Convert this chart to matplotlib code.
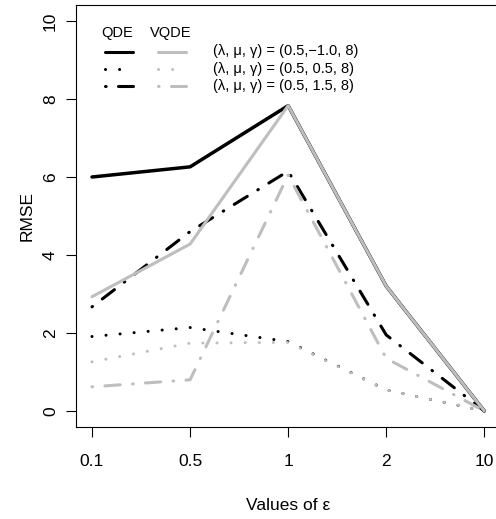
import matplotlib
matplotlib.use("Agg")
import matplotlib.pyplot as plt
from matplotlib.lines import Line2D

plt.rcParams['font.family'] = ['Liberation Sans', 'DejaVu Sans']

eps_labels = ["0.1", "0.5", "1", "2", "10"]
x = [1, 2, 3, 4, 5]

qde_a = [6.0, 6.26, 7.83, 3.2, 0.0]
qde_b = [1.91, 2.14, 1.78, 0.54, 0.0]
qde_c = [2.67, 4.6, 6.15, 1.95, 0.0]
vqde_a = [2.93, 4.28, 7.83, 3.2, 0.0]
vqde_b = [1.26, 1.74, 1.76, 0.54, 0.0]
vqde_c = [0.62, 0.8, 6.05, 1.35, 0.0]

legend_labels = ["(λ, μ, γ) = (0.5,\u22121.0, 8)",
                 "(λ, μ, γ) = (0.5, 0.5, 8)",
                 "(λ, μ, γ) = (0.5, 1.5, 8)"]

W, H = 496, 519
fig = plt.figure(figsize=(W/100, H/100), dpi=100)
L, R, B, T = 76.3, 500.0, 426.6, 5.4
ax = fig.add_axes([L/W, 1-B/H, (R-L)/W, (B-T)/H])

GRAY = "#BEBEBE"
LW = 2.2
FS = 12.5
solid = '-'
dotted = (0, (0.01, 4.6))
dashdot = (0, (0.2, 4.05, 5.0, 4.05))

styles = [solid, dotted, dashdot]
for vals, ls in zip([qde_a, qde_b, qde_c], styles):
    ax.plot(x, vals, color='black', lw=LW + (0.3 if ls == solid else 0), linestyle=ls,
            dash_capstyle='round', solid_capstyle='round', solid_joinstyle='round')
for vals, ls in zip([vqde_a, vqde_b, vqde_c], styles):
    ax.plot(x, vals, color=GRAY, lw=LW, linestyle=ls,
            dash_capstyle='round', solid_capstyle='round', solid_joinstyle='round')

ax.set_xlim(0.84, 5.16)
ax.set_ylim(-0.4, 10.4)
ax.set_xticks(x)
ax.set_xticklabels(eps_labels)
ax.set_yticks([0, 2, 4, 6, 8, 10])
ax.set_yticklabels(["0", "2", "4", "6", "8", "10"], rotation=90, va='center', ha='center')
ax.tick_params(axis='both', direction='out', length=7.5, width=0.8, labelsize=FS, color='black')
ax.tick_params(axis='x', pad=12.5)
ax.tick_params(axis='y', pad=11)
for s in ['left', 'bottom', 'top']:
    ax.spines[s].set_linewidth(0.8)
ax.spines['right'].set_visible(False)

def fx(px):
    return px / W
def fy(py):
    return 1 - py / H

fig.text(fx(288), fy(505.5), "Values of ε", ha='center', va='center', fontsize=FS)
fig.text(fx(27), fy(216), "RMSE", ha='center', va='center', rotation=90, fontsize=FS)

# legend
LFS = 10.5
fig.text(fx(117.5), fy(33), "QDE", ha='center', va='center', fontsize=LFS)
fig.text(fx(171), fy(33), "VQDE", ha='center', va='center', fontsize=LFS)
rows = [51.5, 68.5, 85.5]
for i, (ls, lab) in enumerate(zip(styles, legend_labels)):
    yy = fy(rows[i])
    fig.add_artist(Line2D([fx(104.5), fx(132.5)], [yy, yy], transform=fig.transFigure,
                          color='black', lw=LW, linestyle=ls, dash_capstyle='round',
                          solid_capstyle='round'))
    fig.add_artist(Line2D([fx(158), fx(186)], [yy, yy], transform=fig.transFigure,
                          color=GRAY, lw=LW, linestyle=ls, dash_capstyle='round',
                          solid_capstyle='round'))
    fig.text(fx(213), yy, lab, ha='left', va='center', fontsize=LFS)

fig.savefig("out.png", dpi=100)
